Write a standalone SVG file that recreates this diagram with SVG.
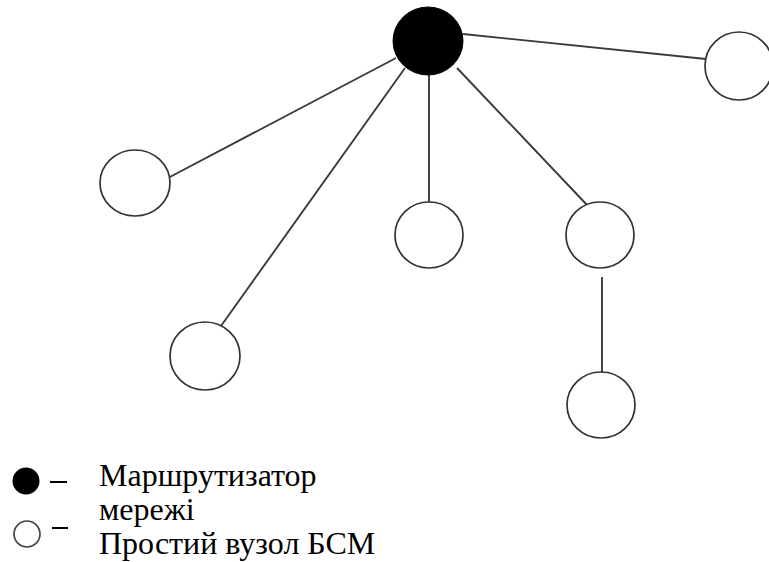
<svg xmlns="http://www.w3.org/2000/svg" width="769" height="562" viewBox="0 0 769 562">
<style>
.node{fill:#fff;stroke:#333;stroke-width:1.7}
.router{fill:#000;stroke:#000}
.edge{stroke:#3a3a3a;stroke-width:1.9;fill:none}
.lbl{font-family:"Liberation Serif","Times New Roman",serif;font-size:32px;fill:#000}
</style>
<rect width="769" height="562" fill="#fff"/>
<g id="connectors">
<line class="edge" x1="463" y1="34" x2="706" y2="59"/>
<line class="edge" x1="396" y1="58" x2="168" y2="178"/>
<line class="edge" x1="405" y1="68" x2="221" y2="326"/>
<line class="edge" x1="429" y1="75" x2="429" y2="202"/>
<line class="edge" x1="457" y1="68" x2="588" y2="206"/>
<line class="edge" x1="602" y1="277" x2="602" y2="374"/>
</g>
<g id="router"><ellipse class="router" cx="428" cy="41" rx="35" ry="34"/></g>
<g id="node-right"><ellipse class="node" cx="739" cy="66" rx="34" ry="34"/></g>
<g id="node-left"><ellipse class="node" cx="135" cy="183" rx="35" ry="33"/></g>
<g id="node-mid"><ellipse class="node" cx="429" cy="235" rx="34" ry="33"/></g>
<g id="node-midright"><ellipse class="node" cx="600" cy="235" rx="34" ry="33"/></g>
<g id="node-bottomleft"><ellipse class="node" cx="205" cy="356" rx="35" ry="34"/></g>
<g id="node-bottomright"><ellipse class="node" cx="601" cy="405" rx="34" ry="33"/></g>
<g id="legend">
<circle cx="26" cy="481" r="13.5" fill="#000"/>
<line x1="50" y1="482" x2="67" y2="482" stroke="#000" stroke-width="2"/>
<circle cx="27" cy="534" r="13" fill="#fff" stroke="#444" stroke-width="1.7"/>
<line x1="52" y1="528" x2="68" y2="528" stroke="#000" stroke-width="2"/>
<text class="lbl" x="99" y="486">Маршрутизатор</text>
<text class="lbl" x="99" y="520">мережі</text>
<text class="lbl" x="99" y="554">Простий вузол БСМ</text>
</g>
</svg>
